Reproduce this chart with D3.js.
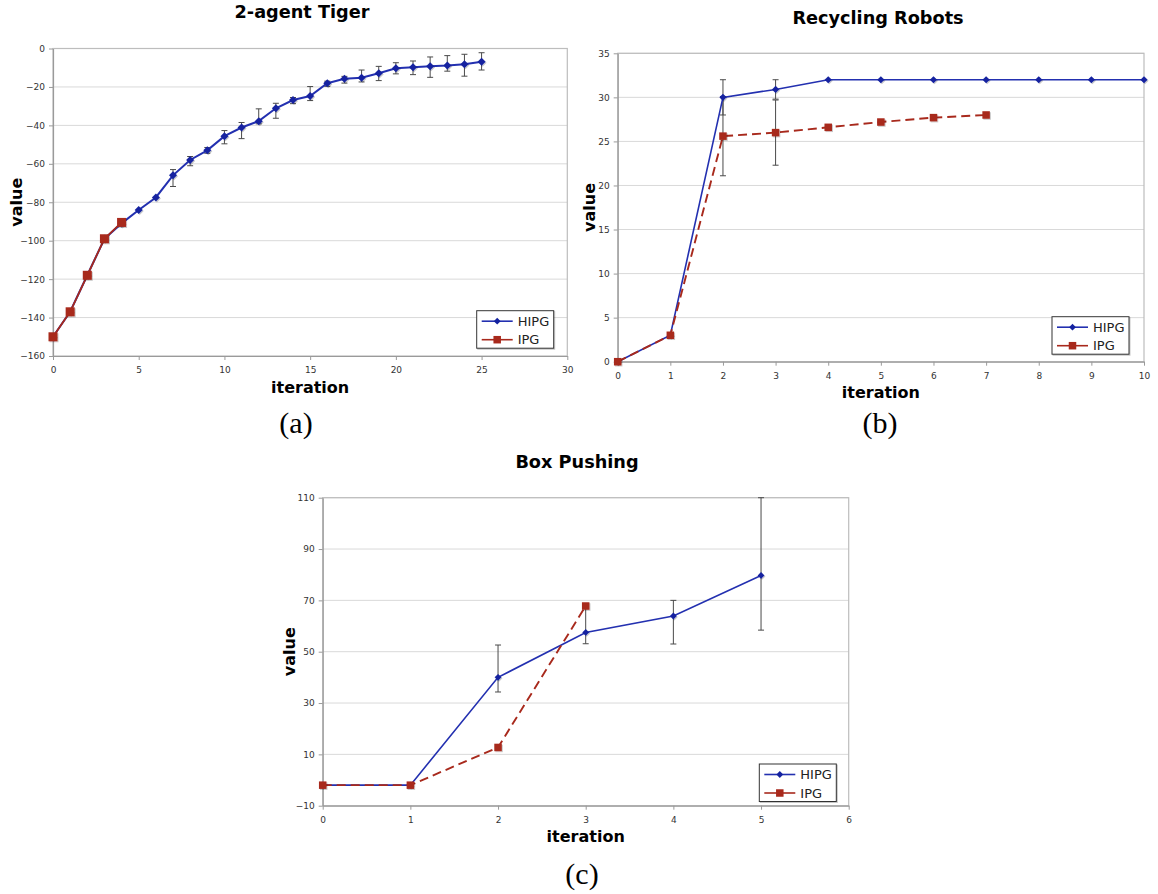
<!DOCTYPE html>
<html>
<head>
<meta charset="utf-8">
<script src="https://cdn.jsdelivr.net/npm/d3@7"></script>
<style>
  body { margin: 0; background: #fff; }
  svg { display: block; font-family: "DejaVu Sans", Verdana, sans-serif; }
</style>
</head>
<body>
<svg id="fig" width="1158" height="894"></svg>
<script>
// ---- data ----
const seriesNames = ['HIPG', 'IPG'];

// (a) 2-agent Tiger
const tigerIter = [0, 1, 2, 3, 4, 5, 6, 7, 8, 9, 10, 11, 12, 13, 14, 15, 16, 17, 18, 19, 20, 21, 22, 23, 24, 25];
const tigerHipg = [-150, -137, -118, -99, -91, -84, -77.5, -66, -58, -53, -45.6, -41.1, -37.8, -31.1, -26.8, -24.7, -18.1, -15.8, -15.2, -12.9, -10.3, -9.8, -9.3, -8.9, -8.2, -6.9];
const tigerHipgLo = [null, null, null, null, null, null, null, -71.8, -61, -54.5, -49.6, -46.9, -39.2, -36.3, -28.7, -27.1, -19.7, -18, -17.4, -16.7, -13.2, -13.6, -15, -11.8, -14.4, -11.2];
const tigerHipgHi = [null, null, null, null, null, null, null, -63, -56.2, -51.5, -42.7, -38.5, -31.4, -28.5, -25.5, -19.8, -17, -14.5, -11.2, -9.3, -7.4, -6.5, -4.4, -3.7, -3, -2.2];
const tigerIpgIter = [0, 1, 2, 3, 4];
const tigerIpg = [-150, -137, -118, -99, -90.5];
const tigerXTicks = [0, 5, 10, 15, 20, 25, 30];
const tigerYTicks = [-160, -140, -120, -100, -80, -60, -40, -20, 0];

// (b) Recycling Robots
const recycleIter = [0, 1, 2, 3, 4, 5, 6, 7, 8, 9, 10];
const recycleHipg = [0, 3, 30, 30.9, 32, 32, 32, 32, 32, 32, 32];
const recycleHipgLo = [null, null, 28, 29.8, null, null, null, null, null, null, null];
const recycleHipgHi = [null, null, 32, 32, null, null, null, null, null, null, null];
const recycleIpgIter = [0, 1, 2, 3, 4, 5, 6, 7];
const recycleIpg = [0, 3, 25.6, 26, 26.6, 27.2, 27.7, 28];
const recycleIpgLo = [null, null, 21.1, 22.3, null, null, null, null];
const recycleIpgHi = [null, null, 30.1, 29.7, null, null, null, null];
const recycleXTicks = [0, 1, 2, 3, 4, 5, 6, 7, 8, 9, 10];
const recycleYTicks = [0, 5, 10, 15, 20, 25, 30, 35];

// (c) Box Pushing
const boxIter = [0, 1, 2, 3, 4, 5];
const boxHipg = [-2, -2, 40, 57.5, 63.9, 79.7];
const boxHipgLo = [null, null, 34.3, 53.1, 53, 58.4];
const boxHipgHi = [null, null, 52.6, 67, 70, 110];
const boxIpgIter = [0, 1, 2, 3];
const boxIpg = [-2, -2, 12.7, 67.8];
const boxXTicks = [0, 1, 2, 3, 4, 5, 6];
const boxYTicks = [-10, 10, 30, 50, 70, 90, 110];

const BLUE = '#2330b0', BLUE_MK = '#1422a0', RED = '#a8291c';

const panels = [
  {
    title: '2-agent Tiger', label: '(a)', titleX: 302, titleY: 18, labelX: 296, labelY: 433,
    left: 53, top: 48.5, right: 567.3, bottom: 356,
    xTicks: tigerXTicks, yTicks: tigerYTicks,
    yTitleX: 22, xTitleY: 393,
    legend: [476.7, 310.7],
    lw: 2, ipgLw: 1.8, diamond: 4, square: 9, ipgDash: null,
    series: [
      { name: seriesNames[0], x: tigerIter, y: tigerHipg, lo: tigerHipgLo, hi: tigerHipgHi },
      { name: seriesNames[1], x: tigerIpgIter, y: tigerIpg, lo: null, hi: null }
    ]
  },
  {
    title: 'Recycling Robots', label: '(b)', titleX: 878, titleY: 23.5, labelX: 880, labelY: 433,
    left: 617.7, top: 53.3, right: 1144, bottom: 361.7,
    xTicks: recycleXTicks, yTicks: recycleYTicks,
    yTitleX: 595, xTitleY: 398,
    legend: [1052, 316.7],
    lw: 1.6, ipgLw: 1.9, diamond: 3.6, square: 7.5, ipgDash: '9,5',
    series: [
      { name: seriesNames[0], x: recycleIter, y: recycleHipg, lo: recycleHipgLo, hi: recycleHipgHi },
      { name: seriesNames[1], x: recycleIpgIter, y: recycleIpg, lo: recycleIpgLo, hi: recycleIpgHi }
    ]
  },
  {
    title: 'Box Pushing', label: '(c)', titleX: 577, titleY: 467.5, labelX: 582, labelY: 884,
    left: 322.7, top: 497.7, right: 848.7, bottom: 805.7,
    xTicks: boxXTicks, yTicks: boxYTicks,
    yTitleX: 295, xTitleY: 841.5,
    legend: [759.3, 764],
    lw: 1.6, ipgLw: 1.9, diamond: 3.4, square: 7.5, ipgDash: '9,5',
    series: [
      { name: seriesNames[0], x: boxIter, y: boxHipg, lo: boxHipgLo, hi: boxHipgHi },
      { name: seriesNames[1], x: boxIpgIter, y: boxIpg, lo: null, hi: null }
    ]
  }
];

const svg = d3.select('#fig');
svg.append('rect').attr('width', 1158).attr('height', 894).attr('fill', '#fff');

const defs = svg.append('defs');
const shadow = defs.append('filter').attr('id', 'shade')
  .attr('x', '-20%').attr('y', '-20%').attr('width', '140%').attr('height', '140%');
shadow.append('feDropShadow').attr('dx', 1).attr('dy', 1).attr('stdDeviation', 0.6)
  .attr('flood-color', '#000').attr('flood-opacity', 0.22);

function drawMarker(g, kind, cx, cy, p) {
  if (kind === 'HIPG') {
    const r = p.diamond;
    g.append('path')
      .attr('d', `M${cx},${cy - r}L${cx + r},${cy}L${cx},${cy + r}L${cx - r},${cy}Z`)
      .attr('fill', BLUE_MK);
  } else {
    const s = p.square;
    g.append('rect').attr('x', cx - s / 2).attr('y', cy - s / 2)
      .attr('width', s).attr('height', s).attr('fill', RED);
  }
}

panels.forEach(p => {
  const x = d3.scaleLinear().domain(d3.extent(p.xTicks)).range([p.left, p.right]);
  const y = d3.scaleLinear().domain(d3.extent(p.yTicks)).range([p.bottom, p.top]);
  const g = svg.append('g');

  // grid lines
  g.append('g').selectAll('line').data(p.yTicks.slice(1)).join('line')
    .attr('x1', p.left).attr('x2', p.right)
    .attr('y1', d => y(d)).attr('y2', d => y(d))
    .attr('stroke', '#d9d9d9').attr('stroke-width', 1);

  // frame
  g.append('rect').attr('x', p.left).attr('y', p.top)
    .attr('width', p.right - p.left).attr('height', p.bottom - p.top)
    .attr('fill', 'none').attr('stroke', '#bdbdbd').attr('stroke-width', 1.2);

  // axes
  const xAxis = d3.axisBottom(x).tickValues(p.xTicks).tickFormat(d3.format('d'))
    .tickSizeInner(4).tickSizeOuter(0).tickPadding(7);
  const yAxis = d3.axisLeft(y).tickValues(p.yTicks).tickFormat(d3.format('d'))
    .tickSizeInner(4).tickSizeOuter(0).tickPadding(4);
  [g.append('g').attr('transform', `translate(0,${p.bottom})`).call(xAxis),
   g.append('g').attr('transform', `translate(${p.left},0)`).call(yAxis)].forEach(ax => {
    ax.attr('font-family', null).attr('font-size', null);
    ax.select('.domain').attr('stroke', '#9a9a9a').attr('stroke-width', 1.2);
    ax.selectAll('.tick line').attr('stroke', '#9a9a9a');
    ax.selectAll('.tick text').attr('fill', '#333').style('font-size', '9px');
  });

  // titles
  g.append('text').attr('x', p.titleX).attr('y', p.titleY).attr('text-anchor', 'middle')
    .attr('font-weight', 'bold').style('font-size', '17.7px').text(p.title);
  g.append('text').attr('x', (p.left + p.right) / 2).attr('y', p.xTitleY).attr('text-anchor', 'middle')
    .attr('font-weight', 'bold').style('font-size', '16px').text('iteration');
  g.append('text')
    .attr('transform', `translate(${p.yTitleX},${(p.top + p.bottom) / 2}) rotate(-90)`)
    .attr('text-anchor', 'middle').attr('font-weight', 'bold').style('font-size', '16px').text('value');
  g.append('text').attr('x', p.labelX).attr('y', p.labelY).attr('text-anchor', 'middle')
    .style('font-family', '"Liberation Serif", "DejaVu Serif", serif').style('font-size', '30px')
    .text(p.label);

  // error bars
  const eb = g.append('g').attr('stroke', '#4a4a4a').attr('stroke-width', 1);
  p.series.forEach(s => {
    if (!s.lo) return;
    s.x.forEach((xi, i) => {
      if (s.lo[i] == null) return;
      const cx = x(xi), y1 = y(s.lo[i]), y2 = y(s.hi[i]);
      eb.append('line').attr('x1', cx).attr('x2', cx).attr('y1', y1).attr('y2', y2);
      eb.append('line').attr('x1', cx - 3).attr('x2', cx + 3).attr('y1', y1).attr('y2', y1);
      eb.append('line').attr('x1', cx - 3).attr('x2', cx + 3).attr('y1', y2).attr('y2', y2);
    });
  });

  // series lines + markers
  const line = d3.line().x(d => x(d[0])).y(d => y(d[1]));
  p.series.forEach(s => {
    const sg = g.append('g');
    const pts = s.x.map((xi, i) => [xi, s.y[i]]);
    const isH = s.name === 'HIPG';
    sg.append('path').datum(pts).attr('d', line).attr('fill', 'none')
      .attr('stroke', isH ? BLUE : RED)
      .attr('stroke-width', isH ? p.lw : p.ipgLw)
      .attr('stroke-dasharray', isH ? null : p.ipgDash);
    const mg = sg.append('g').attr('filter', 'url(#shade)');
    pts.forEach(d => drawMarker(mg, s.name, x(d[0]), y(d[1]), p));
  });

  // legend
  const [lx, ly] = p.legend;
  const lg = g.append('g').attr('transform', `translate(${lx},${ly})`);
  lg.append('rect').attr('width', 77).attr('height', 37.5)
    .attr('fill', '#fff').attr('stroke', '#333').attr('stroke-width', 1)
    .attr('filter', 'url(#shade)');
  seriesNames.forEach((name, i) => {
    const ry = i === 0 ? 10.5 : 29;
    const row = lg.append('g');
    row.append('line').attr('x1', 5).attr('x2', 36).attr('y1', ry).attr('y2', ry)
      .attr('stroke', name === 'HIPG' ? BLUE : RED).attr('stroke-width', 1.6);
    drawMarker(row, name, 20.5, ry, { diamond: 3.4, square: 7.5 });
    row.append('text').attr('x', 41).attr('y', ry + 4.6).style('font-size', '13px')
      .attr('fill', '#222').text(name);
  });
});
</script>
</body>
</html>
